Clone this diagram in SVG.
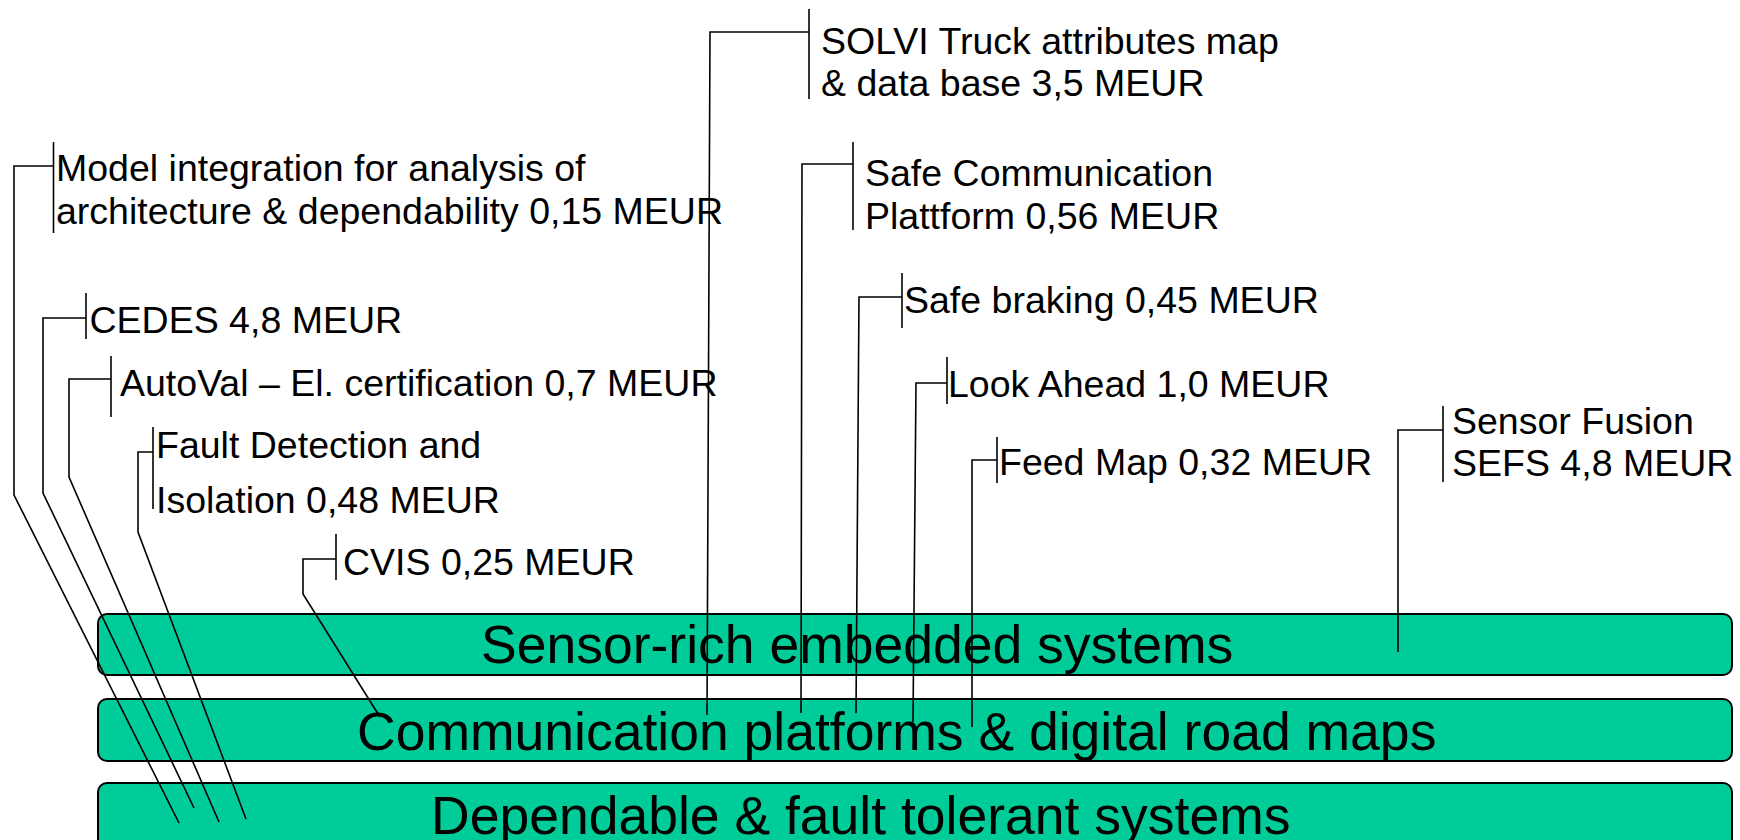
<svg xmlns="http://www.w3.org/2000/svg" width="1740" height="840" viewBox="0 0 1740 840">
<style>
.band{fill:#00CC99;stroke:#000;stroke-width:2}
.bt{font-family:"Liberation Sans",Arial,sans-serif;font-size:53.5px;fill:#000}
.lt{font-family:"Liberation Sans",Arial,sans-serif;font-size:37.5px;fill:#000}
.tick{stroke:#000;stroke-width:1.6;fill:none}
.con{stroke:#000;stroke-width:1.6;fill:none}
</style>
<rect width="1740" height="840" fill="#fff"/>
<g id="band-sensor">
<rect class="band" x="98" y="614" width="1634" height="61" rx="9"/>
<text class="bt" x="481" y="663">Sensor-rich embedded systems</text>
</g>
<g id="band-comm">
<rect class="band" x="98" y="699" width="1634" height="62" rx="9"/>
<text class="bt" x="357" y="750">Communication platforms &amp; digital road maps</text>
</g>
<g id="band-dep">
<rect class="band" x="98" y="783" width="1634" height="80" rx="9"/>
<text class="bt" x="431" y="834">Dependable &amp; fault tolerant systems</text>
</g>
<g id="connectors">
<path class="con" d="M53.5,166 H14 V495 L179,823"/>
<path class="con" d="M86,318 H43 V493 L194,808"/>
<path class="con" d="M111,379 H69 V477 L219,822"/>
<path class="con" d="M153,452 H138 V532 L246,819"/>
<path class="con" d="M336,559 H303 V594 L380,717"/>
<path class="con" d="M809,32 H710 L707,715"/>
<path class="con" d="M853,164 H802 L801,713"/>
<path class="con" d="M902,297 H859 L856,713"/>
<path class="con" d="M947,383 H916 L913,722"/>
<path class="con" d="M997,460 H972 V727"/>
<path class="con" d="M1443,430 H1398 V652"/>
</g>
<g id="model-integration">
<line class="tick" x1="53.5" y1="142" x2="53.5" y2="233"/>
<text class="lt" x="56" y="181">Model integration for analysis of</text>
<text class="lt" x="56" y="224">architecture &amp; dependability 0,15 MEUR</text>
</g>
<g id="cedes">
<line class="tick" x1="86" y1="293" x2="86" y2="339"/>
<text class="lt" x="89.5" y="333">CEDES 4,8 MEUR</text>
</g>
<g id="autoval">
<line class="tick" x1="111" y1="356" x2="111" y2="417"/>
<text class="lt" x="120" y="396">AutoVal – El. certification 0,7 MEUR</text>
</g>
<g id="fault-detection">
<line class="tick" x1="153" y1="427" x2="153" y2="509"/>
<text class="lt" x="156" y="458">Fault Detection and</text>
<text class="lt" x="156" y="513">Isolation 0,48 MEUR</text>
</g>
<g id="cvis">
<line class="tick" x1="336" y1="534" x2="336" y2="580"/>
<text class="lt" x="343" y="575">CVIS 0,25 MEUR</text>
</g>
<g id="solvi">
<line class="tick" x1="809" y1="9" x2="809" y2="99"/>
<text class="lt" x="821" y="54">SOLVI Truck attributes map</text>
<text class="lt" x="821" y="96">&amp; data base 3,5 MEUR</text>
</g>
<g id="safe-communication">
<line class="tick" x1="853" y1="142" x2="853" y2="230"/>
<text class="lt" x="865" y="186">Safe Communication</text>
<text class="lt" x="865" y="229">Plattform 0,56 MEUR</text>
</g>
<g id="safe-braking">
<line class="tick" x1="902" y1="273" x2="902" y2="328"/>
<text class="lt" x="904" y="313">Safe braking 0,45 MEUR</text>
</g>
<g id="look-ahead">
<line class="tick" x1="947" y1="357" x2="947" y2="404"/>
<text class="lt" x="948" y="397">Look Ahead 1,0 MEUR</text>
</g>
<g id="feed-map">
<line class="tick" x1="997" y1="437" x2="997" y2="483"/>
<text class="lt" x="999" y="475">Feed Map 0,32 MEUR</text>
</g>
<g id="sensor-fusion">
<line class="tick" x1="1443" y1="406" x2="1443" y2="482"/>
<text class="lt" x="1452" y="434">Sensor Fusion</text>
<text class="lt" x="1452" y="476">SEFS 4,8 MEUR</text>
</g>
</svg>
